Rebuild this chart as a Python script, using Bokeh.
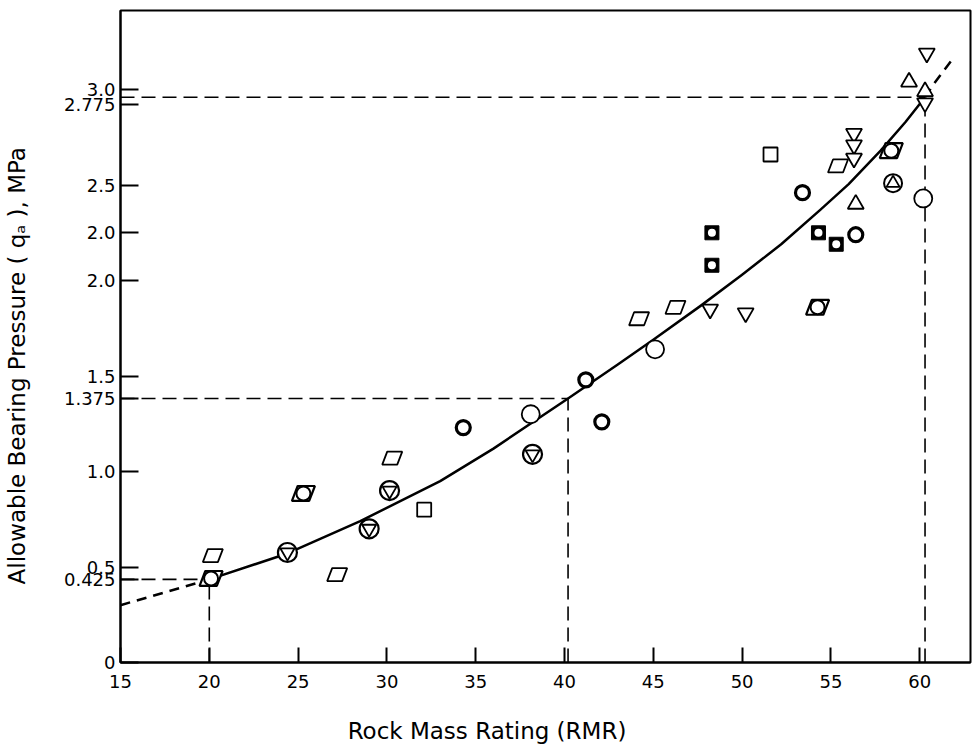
from bokeh.plotting import figure
from bokeh.models import FixedTicker
from bokeh.embed import file_html
from bokeh.resources import INLINE

# ---------------- data ----------------
x_ticks = [15, 20, 25, 30, 35, 40, 45, 50, 55, 60]
y_tick_values = [0, 0.435, 0.5, 1.0, 1.382, 1.5, 2.0, 2.25, 2.5, 2.92, 3.0]
y_tick_labels = ["0", "0.425", "0.5", "1.0", "1.375", "1.5", "2.0", "2.0", "2.5", "2.775", "3.0"]

# fitted curve
curve_rmr = [15.0, 20.0, 24.4, 28.5, 33.0, 36.0, 40.2, 43.0, 45.0, 47.7, 50.0, 52.2, 54.4, 56.0, 57.8, 59.2, 60.3, 60.8, 61.85]
curve_qa = [0.30, 0.435, 0.571, 0.74, 0.95, 1.12, 1.382, 1.56, 1.69, 1.87, 2.03, 2.19, 2.37, 2.505, 2.68, 2.83, 2.96, 3.03, 3.16]

# dashed reading guides
guide_rmr = [20.0, 40.2, 60.3]
guide_qa = [0.435, 1.382, 2.96]

# data points by symbol
open_circle_rmr = [38.1, 45.1, 60.2]
open_circle_qa = [1.30, 1.64, 2.43]

open_square_rmr = [32.1, 51.6]
open_square_qa = [0.80, 2.66]

parallelogram_rmr = [20.2, 27.2, 30.3, 44.2, 46.25, 55.4]
parallelogram_qa = [0.56, 0.46, 1.07, 1.80, 1.86, 2.60]

triangle_rmr = [56.4, 59.4, 60.3]
triangle_qa = [2.40, 3.04, 2.99]

inv_triangle_rmr = [48.2, 50.2, 56.3, 56.3, 56.3, 60.4, 60.3]
inv_triangle_qa = [1.85, 1.83, 2.77, 2.71, 2.64, 3.19, 2.93]

square_hole_rmr = [48.3, 48.3, 54.3, 55.3]
square_hole_qa = [2.25, 2.08, 2.25, 2.19]

bold_circle_rmr = [34.3, 41.2, 42.1, 53.4, 56.4]
bold_circle_qa = [1.23, 1.48, 1.26, 2.46, 2.24]

circle_invtri_rmr = [24.4, 29.0, 30.15, 38.2]
circle_invtri_qa = [0.576, 0.70, 0.90, 1.09]

circle_tri_rmr = [58.5]
circle_tri_qa = [2.51]

para_circle_rmr = [20.1, 25.3, 54.25, 58.4]
para_circle_qa = [0.44, 0.885, 1.86, 2.68]

# ---------------- figure ----------------
X0, X1 = 15, 62.86
Y0, Y1 = 0, 3.414
W, H = 972, 750
LEFT, RIGHT, TOP, BOTTOM = 120, 2, 10, 88

p = figure(width=W, height=H, x_range=(X0, X1), y_range=(Y0, Y1),
           output_backend="svg", toolbar_location=None,
           min_border_left=LEFT, min_border_right=RIGHT,
           min_border_top=TOP, min_border_bottom=BOTTOM)
p.background_fill_color = "white"
p.border_fill_color = "white"
p.xgrid.visible = False
p.ygrid.visible = False
p.outline_line_color = "black"
p.outline_line_width = 2

FONT = "DejaVu Sans"
for ax in (p.xaxis[0], p.yaxis[0]):
    ax.axis_line_width = 2
    ax.major_tick_line_width = 2
    ax.major_tick_out = 0
    ax.minor_tick_in = 0
    ax.minor_tick_out = 0
    ax.major_label_text_font = FONT
    ax.major_label_text_font_size = "18px"
    ax.major_label_text_color = "black"
    ax.axis_label_text_font = FONT
    ax.axis_label_text_font_size = "23px"
    ax.axis_label_text_font_style = "normal"
    ax.axis_label_text_color = "black"

p.xaxis.ticker = FixedTicker(ticks=x_ticks)
p.xaxis.major_tick_in = 15
p.xaxis.major_label_standoff = 12
p.xaxis.axis_label = "Rock Mass Rating  (RMR)" + "\u00a0" * 15
p.xaxis.axis_label_standoff = 27

p.yaxis.ticker = FixedTicker(ticks=y_tick_values)
p.yaxis.major_label_overrides = {v: l for v, l in zip(y_tick_values, y_tick_labels)}
p.yaxis.major_tick_in = 18
p.yaxis.major_label_standoff = 5
p.yaxis.axis_label = "Allowable Bearing Pressure ( q\u2090 ),  MPa" + "\u00a0" * 7
p.yaxis.axis_label_standoff = 31

# pixel size of one data unit (for symbol outlines that have no marker)
PX_X = (X1 - X0) / (W - LEFT - RIGHT)
PX_Y = (Y1 - Y0) / (H - TOP - BOTTOM)

# ---------------- curve ----------------
i_lo = curve_rmr.index(20.0)
i_hi = curve_rmr.index(60.3)
p.line(curve_rmr[:i_lo + 1], curve_qa[:i_lo + 1], line_color="black", line_width=2.5, line_dash="10 7")
p.line(curve_rmr[i_lo:i_hi + 1], curve_qa[i_lo:i_hi + 1], line_color="black", line_width=2.5,
       line_join="round")
p.line(curve_rmr[i_hi:], curve_qa[i_hi:], line_color="black", line_width=2.5, line_dash="10 7")

# ---------------- guides ----------------
p.multi_line(xs=[[X0, gx] for gx in guide_rmr], ys=[[gy, gy] for gy in guide_qa],
             line_color="black", line_width=1.6, line_dash="14 7")
p.multi_line(xs=[[gx, gx] for gx in guide_rmr], ys=[[Y0, gy] for gy in guide_qa],
             line_color="black", line_width=1.6, line_dash="14 7")

# ---------------- symbols ----------------
para_dx = [-10, 5, 10, -5]
para_dy = [-6.5, -6.5, 6.5, 6.5]


def para_shapes(xs, ys, k=1.0):
    return ([[x + d * PX_X * k for d in para_dx] for x in xs],
            [[y + d * PX_Y * k for d in para_dy] for y in ys])


LW = 1.8
px, py = para_shapes(parallelogram_rmr, parallelogram_qa)
p.patches(px, py, fill_color="white", line_color="black", line_width=LW)

px, py = para_shapes(para_circle_rmr, para_circle_qa, 1.15)
p.patches(px, py, fill_color="white", line_color="black", line_width=2.2)
p.scatter(para_circle_rmr, para_circle_qa, marker="circle", size=14,
          fill_color="white", line_color="black", line_width=2)

p.scatter(open_circle_rmr, open_circle_qa, marker="circle", size=18,
          fill_color="white", line_color="black", line_width=LW)
p.scatter(open_square_rmr, open_square_qa, marker="square", size=14,
          fill_color="white", line_color="black", line_width=LW)
p.scatter(triangle_rmr, triangle_qa, marker="triangle", size=16,
          fill_color="white", line_color="black", line_width=LW)
p.scatter(inv_triangle_rmr, inv_triangle_qa, marker="inverted_triangle", size=16,
          fill_color="white", line_color="black", line_width=LW)

p.scatter(square_hole_rmr, square_hole_qa, marker="square", size=14,
          fill_color="black", line_color="black", line_width=1)
p.scatter(square_hole_rmr, square_hole_qa, marker="circle", size=8,
          fill_color="white", line_color=None)

p.scatter(bold_circle_rmr, bold_circle_qa, marker="circle", size=14,
          fill_color="white", line_color="black", line_width=3.2)

p.scatter(circle_invtri_rmr, circle_invtri_qa, marker="circle", size=19,
          fill_color="white", line_color="black", line_width=2.2)
p.scatter(circle_invtri_rmr, circle_invtri_qa, marker="inverted_triangle", size=14,
          fill_color="white", line_color="black", line_width=1.8)

p.scatter(circle_tri_rmr, circle_tri_qa, marker="circle", size=18,
          fill_color="white", line_color="black", line_width=2)
p.scatter(circle_tri_rmr, circle_tri_qa, marker="triangle", size=13,
          fill_color="white", line_color="black", line_width=1.8)

open("out.html", "w").write(file_html(p, INLINE))
